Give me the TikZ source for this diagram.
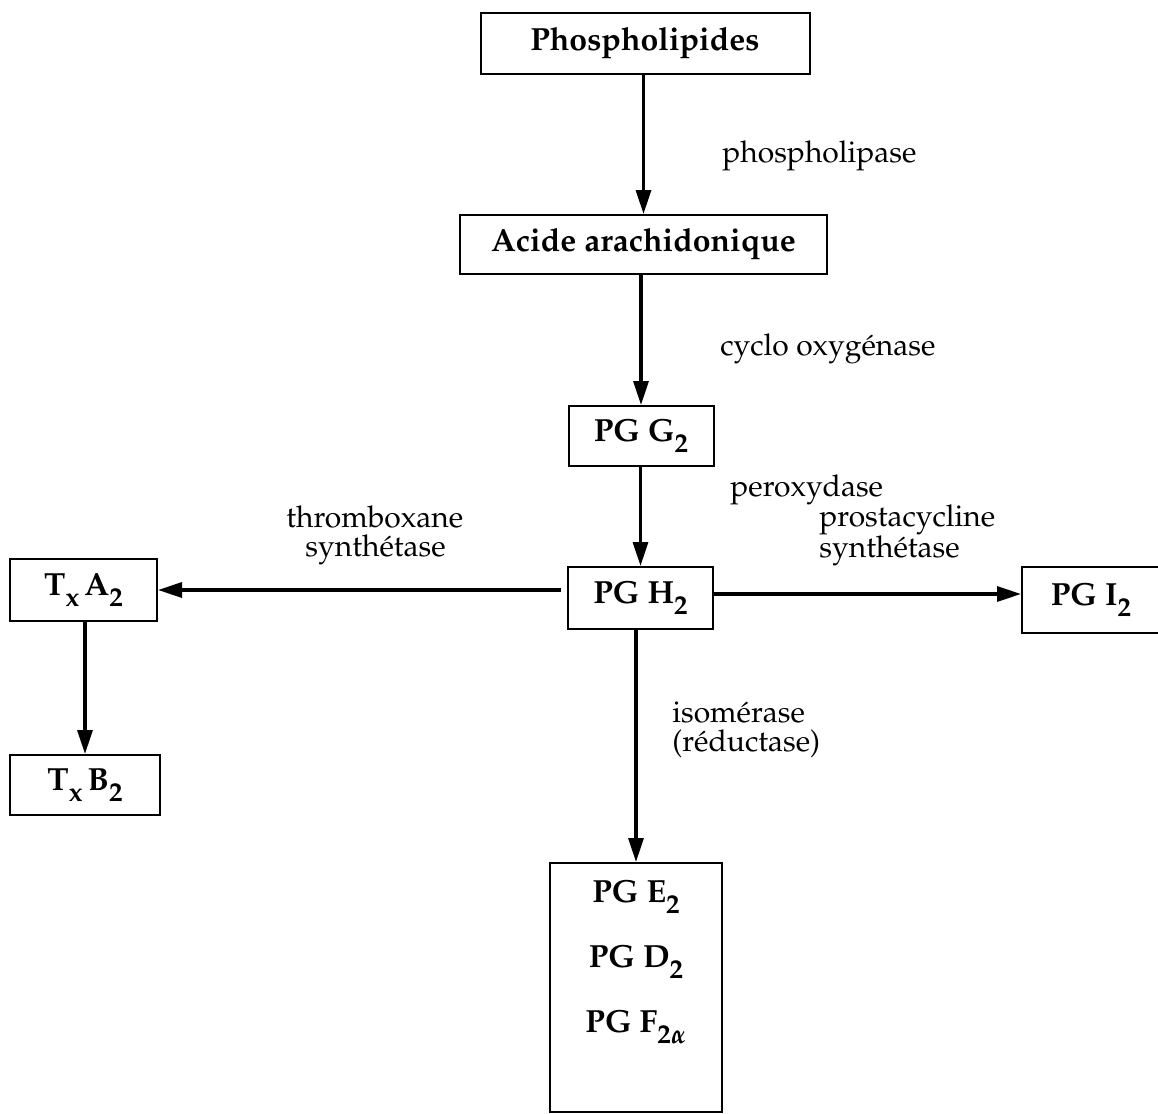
\documentclass[tikz,border=0pt]{standalone}
\usepackage[T1]{fontenc}
\usepackage{mathpazo}
\usetikzlibrary{arrows.meta}
\newcommand\sbs[1]{\raisebox{-5.5pt}{\fontsize{13.5}{14}\selectfont\bfseries\boldmath #1}}
\begin{document}
\begin{tikzpicture}[x=0.5pt,y=-0.5pt,
  box/.style={draw,line width=1pt,inner sep=0pt,font=\fontsize{16}{18}\selectfont\bfseries\boldmath},
  boxtext/.style={inner sep=0pt,align=center,font=\fontsize{16}{32.5}\selectfont\bfseries\boldmath},
  lab/.style={inner sep=0pt,anchor=base west,font=\fontsize{15}{15.5}\selectfont},
  arr/.style={line width=1.6pt,-{Triangle[length=12pt,width=7.5pt]}}]
\useasboundingbox (0,0) rectangle (1158,1114);
% boxes
\node[box,minimum width=164.5pt,minimum height=30.5pt] (phos) at (645,43.5) {Phospholipides};
\node[box,minimum width=183.5pt,minimum height=29.5pt] (acide) at (643.5,244.5) {Acide arachidonique};
\node[box,minimum width=72.5pt,minimum height=30pt] (pgg) at (641,436) {PG G\sbs{2}};
\node[box,minimum width=72.5pt,minimum height=31pt] (pgh) at (640.5,598) {PG H\sbs{2}};
\node[box,minimum width=73.5pt,minimum height=31pt] (txa) at (83.5,590) {T\sbs{x}\,A\sbs{2}};
\node[box,minimum width=75pt,minimum height=30pt] (txb) at (85,785) {T\sbs{x}\,B\sbs{2}};
\node[box,minimum width=69pt,minimum height=33pt] (pgi) at (1091,600) {PG I\sbs{2}};
\node[box,minimum width=86pt,minimum height=124.5pt] (big) at (636,987.5) {};
\node[boxtext] (bigtext) at (636,962) {PG E\sbs{2}\\PG D\sbs{2}\\PG F\sbs{2$\alpha$}};
% arrows
\draw[arr] (phos.south -| acide.north) -- (acide.north);
\draw[arr] (acide.south -| pgg.north) -- (pgg.north);
\draw[arr] (pgg.south -| pgh.north) -- (pgh.north);
\draw[arr,shorten <=3pt] (pgh.west |- txa.east) -- (txa.east);
\draw[arr] ([yshift=2pt]pgh.east) -- ([yshift=2pt]pgh.east -| pgi.west);
\draw[arr] (txa.south -| txb.north) -- (txb.north);
\draw[arr] (pgh.south -| big.north) -- (big.north);
% labels
\node[lab] (l1) at (722,162) {phospholipase};
\node[lab] (l2) at (720,355) {cyclo oxyg\'enase};
\node[lab] (l3) at (730,496) {peroxydase};
\node[lab] (l4a) at (819,526) {prostacycline};
\node[lab] (l4b) at (819,557) {synth\'etase};
\node[lab] (l5a) at (286,527) {thromboxane};
\node[lab] (l5b) at (305,556) {synth\'etase};
\node[lab] (l6a) at (672,722) {isom\'erase};
\node[lab] (l6b) at (672,751) {(r\'eductase)};
\end{tikzpicture}
\end{document}
